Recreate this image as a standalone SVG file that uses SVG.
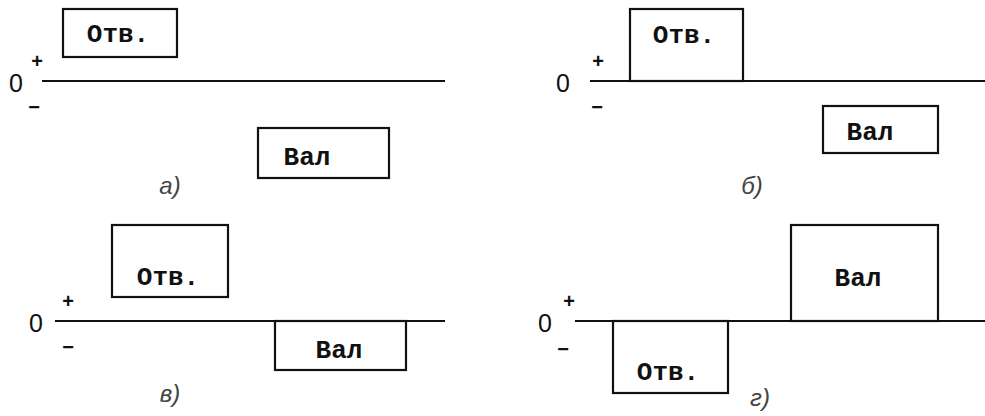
<svg xmlns="http://www.w3.org/2000/svg" width="985" height="416" viewBox="0 0 985 416">
<style>
.box{fill:none;stroke:#111;stroke-width:2.2}
.axis{stroke:#111;stroke-width:2.2;fill:none}
.lbl{font-family:"Liberation Mono",monospace;font-weight:bold;font-size:26px;fill:#111;text-anchor:middle}
.zero{font-family:"Liberation Sans",sans-serif;font-size:25px;fill:#111;text-anchor:middle}
.sign{font-family:"Liberation Sans",sans-serif;font-size:20px;font-weight:bold;fill:#111;text-anchor:middle}
.cap{font-family:"Liberation Sans",sans-serif;font-style:italic;font-size:24px;fill:#444;text-anchor:middle}
</style>
<rect width="985" height="416" fill="#fff"/>
<g id="connectors">
<line class="axis" x1="42" y1="81" x2="445" y2="81"/>
<line class="axis" x1="590" y1="81" x2="985" y2="81"/>
<line class="axis" x1="55" y1="321" x2="445" y2="321"/>
<line class="axis" x1="575" y1="321" x2="985" y2="321"/>
</g>
<g id="panel-a">
<text class="zero" x="16" y="92">0</text>
<text class="sign" x="37" y="68">+</text>
<text class="sign" x="34" y="114">−</text>
<g id="a-otv"><rect class="box" x="63" y="9" width="114" height="48"/><text class="lbl" x="118" y="42">Отв.</text></g>
<g id="a-val"><rect class="box" x="258" y="128" width="131" height="50"/><text class="lbl" x="307" y="165">Вал</text></g>
<text class="cap" x="170" y="194">а)</text>
</g>
<g id="panel-b">
<text class="zero" x="563" y="92">0</text>
<text class="sign" x="598" y="68">+</text>
<text class="sign" x="597" y="114">−</text>
<g id="b-otv"><rect class="box" x="630" y="9" width="113" height="72"/><text class="lbl" x="684" y="43">Отв.</text></g>
<g id="b-val"><rect class="box" x="823" y="106" width="115" height="47"/><text class="lbl" x="870" y="140">Вал</text></g>
<text class="cap" x="752" y="194">б)</text>
</g>
<g id="panel-c">
<text class="zero" x="36" y="332">0</text>
<text class="sign" x="68" y="308">+</text>
<text class="sign" x="68" y="354">−</text>
<g id="c-otv"><rect class="box" x="112" y="225" width="116" height="72"/><text class="lbl" x="168" y="285">Отв.</text></g>
<g id="c-val"><rect class="box" x="275" y="321" width="131" height="49"/><text class="lbl" x="339" y="358">Вал</text></g>
<text class="cap" x="170" y="402">в)</text>
</g>
<g id="panel-d">
<text class="zero" x="545" y="332">0</text>
<text class="sign" x="569" y="308">+</text>
<text class="sign" x="563" y="356">−</text>
<g id="d-val"><rect class="box" x="791" y="225" width="147" height="96"/><text class="lbl" x="858" y="286">Вал</text></g>
<g id="d-otv"><rect class="box" x="613" y="321" width="115" height="72"/><text class="lbl" x="668" y="380">Отв.</text></g>
<text class="cap" x="760" y="406">г)</text>
</g>
</svg>
